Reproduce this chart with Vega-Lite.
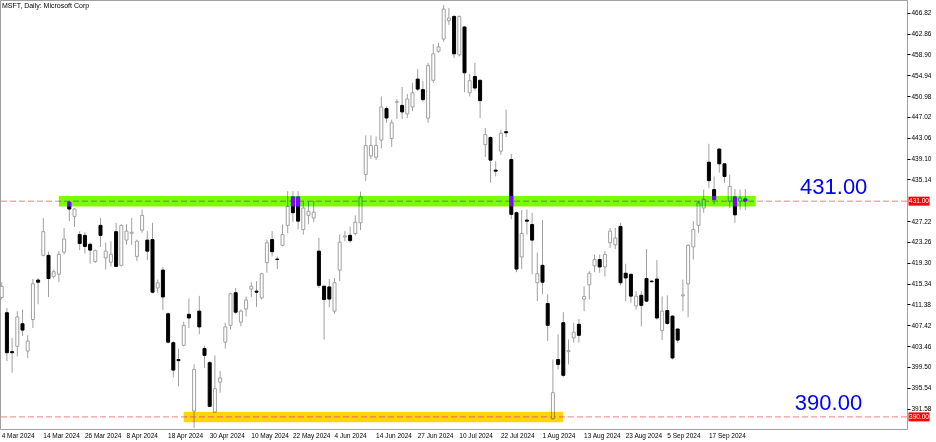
{
  "$schema": "https://vega.github.io/schema/vega-lite/v6.json",
  "width": 907,
  "height": 429,
  "autosize": {"type": "none"},
  "padding": {"left": 0, "top": 0, "right": 29, "bottom": 13},
  "background": "#ffffff",
  "config": {
    "view": {"stroke": "#a0a0a0", "strokeWidth": 1},
    "font": "Liberation Sans",
    "axisY": {"labelOverlap": false, "labelBound": false, "labelFontSize": 6.5, "labelColor": "#000000", "labelFont": "Liberation Sans", "tickColor": "#000000", "tickSize": 3, "labelPadding": 1, "domain": false, "grid": false, "title": null},
    "axisX": {"labelOverlap": false, "labelBound": false, "labelFontSize": 6.5, "labelColor": "#000000", "labelFont": "Liberation Sans", "ticks": false, "domain": false, "grid": false, "title": null}
  },
  "title": {"text": "MSFT, Daily:  Microsoft Corp", "anchor": "start", "frame": "group", "orient": "top", "offset": -9, "dx": 2, "fontSize": 7, "fontWeight": "normal", "color": "#000000", "font": "Liberation Sans"},
  "datasets": {
    "candles": [
      {"d":"2024-03-04","o":412.7,"h":415.6,"l":412.3,"c":414.8},
      {"d":"2024-03-05","o":409.8,"h":410.7,"l":400.6,"c":402.2},
      {"d":"2024-03-06","o":402.4,"h":405.0,"l":398.4,"c":402.2},
      {"d":"2024-03-07","o":403.4,"h":410.1,"l":401.5,"c":409.0},
      {"d":"2024-03-08","o":407.7,"h":410.4,"l":405.4,"c":406.5},
      {"d":"2024-03-11","o":402.5,"h":405.5,"l":401.2,"c":404.4},
      {"d":"2024-03-12","o":408.5,"h":416.2,"l":406.9,"c":415.3},
      {"d":"2024-03-13","o":416.0,"h":416.4,"l":411.4,"c":415.6},
      {"d":"2024-03-14","o":420.7,"h":427.8,"l":420.5,"c":425.2},
      {"d":"2024-03-15","o":420.7,"h":421.4,"l":412.8,"c":416.3},
      {"d":"2024-03-18","o":416.7,"h":418.0,"l":416.3,"c":417.6},
      {"d":"2024-03-19","o":417.1,"h":421.5,"l":415.6,"c":420.9},
      {"d":"2024-03-20","o":421.3,"h":425.9,"l":420.9,"c":423.8},
      {"d":"2024-03-21","o":430.8,"h":431.0,"l":427.2,"c":429.5},
      {"d":"2024-03-22","o":428.1,"h":429.7,"l":426.1,"c":429.5},
      {"d":"2024-03-25","o":424.65,"h":425.3,"l":421.7,"c":422.95},
      {"d":"2024-03-26","o":424.5,"h":425.1,"l":421.05,"c":422.4},
      {"d":"2024-03-27","o":422.8,"h":423.1,"l":419.1,"c":421.7},
      {"d":"2024-03-28","o":419.5,"h":421.8,"l":419.3,"c":421.6},
      {"d":"2024-04-01","o":426.4,"h":427.8,"l":422.3,"c":424.5},
      {"d":"2024-04-02","o":420.2,"h":423.1,"l":418.0,"c":421.5},
      {"d":"2024-04-03","o":419.4,"h":423.4,"l":418.6,"c":420.9},
      {"d":"2024-04-04","o":425.2,"h":426.9,"l":418.5,"c":418.6},
      {"d":"2024-04-05","o":418.8,"h":426.6,"l":418.6,"c":426.4},
      {"d":"2024-04-08","o":423.6,"h":426.6,"l":422.7,"c":425.3},
      {"d":"2024-04-09","o":424.9,"h":427.8,"l":422.7,"c":425.1},
      {"d":"2024-04-10","o":420.5,"h":423.7,"l":419.6,"c":423.4},
      {"d":"2024-04-11","o":425.5,"h":429.4,"l":425.0,"c":428.3},
      {"d":"2024-04-12","o":423.6,"h":425.3,"l":419.8,"c":421.5},
      {"d":"2024-04-15","o":423.7,"h":426.9,"l":413.45,"c":413.7},
      {"d":"2024-04-16","o":414.5,"h":416.1,"l":413.6,"c":415.5},
      {"d":"2024-04-17","o":417.9,"h":418.5,"l":410.3,"c":412.8},
      {"d":"2024-04-18","o":409.6,"h":409.8,"l":404.0,"c":404.2},
      {"d":"2024-04-19","o":404.1,"h":404.4,"l":397.5,"c":398.9},
      {"d":"2024-04-22","o":400.9,"h":403.0,"l":395.8,"c":400.7},
      {"d":"2024-04-23","o":403.6,"h":408.1,"l":403.4,"c":407.4},
      {"d":"2024-04-24","o":409.5,"h":412.5,"l":406.9,"c":408.8},
      {"d":"2024-04-25","o":391.1,"h":400.0,"l":387.9,"c":399.0},
      {"d":"2024-04-26","o":410.1,"h":413.0,"l":405.7,"c":407.1},
      {"d":"2024-04-29","o":403.0,"h":403.5,"l":399.3,"c":401.7},
      {"d":"2024-04-30","o":400.3,"h":400.6,"l":391.9,"c":392.0},
      {"d":"2024-05-01","o":390.9,"h":401.7,"l":390.8,"c":395.35},
      {"d":"2024-05-02","o":396.6,"h":398.7,"l":394.6,"c":397.4},
      {"d":"2024-05-03","o":404.2,"h":407.9,"l":403.0,"c":407.1},
      {"d":"2024-05-06","o":407.4,"h":413.6,"l":406.6,"c":413.4},
      {"d":"2024-05-07","o":413.6,"h":414.5,"l":409.5,"c":409.9},
      {"d":"2024-05-08","o":408.0,"h":410.4,"l":407.2,"c":410.1},
      {"d":"2024-05-09","o":410.5,"h":412.9,"l":409.1,"c":412.2},
      {"d":"2024-05-10","o":414.3,"h":415.6,"l":412.8,"c":414.84},
      {"d":"2024-05-13","o":413.9,"h":415.8,"l":410.9,"c":413.7},
      {"d":"2024-05-14","o":412.6,"h":417.4,"l":412.3,"c":417.2},
      {"d":"2024-05-15","o":419.3,"h":423.7,"l":417.4,"c":423.1},
      {"d":"2024-05-16","o":423.7,"h":425.3,"l":420.5,"c":421.4},
      {"d":"2024-05-17","o":420.0,"h":420.5,"l":418.1,"c":419.9},
      {"d":"2024-05-20","o":422.6,"h":426.6,"l":422.4,"c":424.65},
      {"d":"2024-05-21","o":426.4,"h":432.9,"l":424.9,"c":430.0},
      {"d":"2024-05-22","o":431.8,"h":432.9,"l":427.0,"c":428.8},
      {"d":"2024-05-23","o":431.8,"h":432.9,"l":425.6,"c":427.2},
      {"d":"2024-05-24","o":425.6,"h":431.0,"l":424.65,"c":429.7},
      {"d":"2024-05-28","o":428.3,"h":431.0,"l":426.6,"c":429.1},
      {"d":"2024-05-29","o":427.8,"h":431.0,"l":427.0,"c":428.9},
      {"d":"2024-05-30","o":421.5,"h":424.0,"l":414.5,"c":415.0},
      {"d":"2024-05-31","o":414.84,"h":414.9,"l":404.7,"c":412.3},
      {"d":"2024-06-03","o":414.7,"h":416.2,"l":410.8,"c":412.4},
      {"d":"2024-06-04","o":410.1,"h":416.4,"l":409.6,"c":415.5},
      {"d":"2024-06-05","o":417.9,"h":424.65,"l":415.8,"c":423.2},
      {"d":"2024-06-06","o":424.2,"h":425.3,"l":423.4,"c":424.4},
      {"d":"2024-06-07","o":424.5,"h":426.2,"l":423.1,"c":423.5},
      {"d":"2024-06-10","o":424.85,"h":428.3,"l":424.5,"c":427.0},
      {"d":"2024-06-11","o":426.9,"h":432.8,"l":425.5,"c":431.8},
      {"d":"2024-06-12","o":436.05,"h":443.5,"l":434.8,"c":441.6},
      {"d":"2024-06-13","o":439.6,"h":443.5,"l":439.0,"c":441.56},
      {"d":"2024-06-14","o":439.35,"h":443.3,"l":438.8,"c":441.6},
      {"d":"2024-06-17","o":442.6,"h":450.9,"l":441.0,"c":448.9},
      {"d":"2024-06-18","o":448.6,"h":449.0,"l":445.9,"c":446.8},
      {"d":"2024-06-20","o":442.9,"h":446.5,"l":441.3,"c":445.9},
      {"d":"2024-06-21","o":449.8,"h":450.4,"l":446.6,"c":449.9},
      {"d":"2024-06-24","o":449.2,"h":452.7,"l":446.6,"c":447.96},
      {"d":"2024-06-25","o":447.6,"h":451.4,"l":446.8,"c":450.4},
      {"d":"2024-06-26","o":448.9,"h":453.5,"l":448.1,"c":451.6},
      {"d":"2024-06-27","o":454.2,"h":456.1,"l":451.9,"c":452.3},
      {"d":"2024-06-28","o":452.2,"h":453.8,"l":449.9,"c":450.3},
      {"d":"2024-07-01","o":446.8,"h":457.3,"l":445.9,"c":456.75},
      {"d":"2024-07-02","o":453.97,"h":460.9,"l":453.5,"c":459.0},
      {"d":"2024-07-03","o":459.5,"h":461.1,"l":459.2,"c":460.3},
      {"d":"2024-07-05","o":461.8,"h":468.3,"l":461.3,"c":467.5},
      {"d":"2024-07-08","o":465.3,"h":467.7,"l":464.5,"c":465.8},
      {"d":"2024-07-09","o":466.1,"h":466.4,"l":458.2,"c":459.0},
      {"d":"2024-07-10","o":458.8,"h":466.3,"l":458.5,"c":466.1},
      {"d":"2024-07-11","o":464.1,"h":464.2,"l":451.7,"c":455.4},
      {"d":"2024-07-12","o":451.6,"h":455.2,"l":450.9,"c":453.9},
      {"d":"2024-07-15","o":454.7,"h":457.3,"l":452.0,"c":452.5},
      {"d":"2024-07-16","o":453.97,"h":454.1,"l":446.8,"c":450.1},
      {"d":"2024-07-17","o":441.75,"h":444.9,"l":439.4,"c":443.65},
      {"d":"2024-07-18","o":443.1,"h":443.3,"l":434.5,"c":438.8},
      {"d":"2024-07-19","o":436.9,"h":438.6,"l":435.7,"c":436.7},
      {"d":"2024-07-22","o":440.5,"h":444.6,"l":439.8,"c":443.9},
      {"d":"2024-07-23","o":444.2,"h":448.4,"l":443.2,"c":444.0},
      {"d":"2024-07-24","o":438.9,"h":440.0,"l":427.6,"c":428.5},
      {"d":"2024-07-25","o":428.8,"h":429.1,"l":417.5,"c":418.1},
      {"d":"2024-07-26","o":420.4,"h":429.3,"l":418.1,"c":424.85},
      {"d":"2024-07-29","o":427.4,"h":429.4,"l":424.65,"c":427.2},
      {"d":"2024-07-30","o":426.55,"h":428.8,"l":417.1,"c":423.6},
      {"d":"2024-07-31","o":415.5,"h":421.2,"l":412.0,"c":417.2},
      {"d":"2024-08-01","o":418.8,"h":427.4,"l":413.3,"c":415.6},
      {"d":"2024-08-02","o":411.55,"h":413.3,"l":404.4,"c":407.4},
      {"d":"2024-08-05","o":389.65,"h":400.9,"l":389.5,"c":394.6},
      {"d":"2024-08-06","o":400.9,"h":405.7,"l":399.0,"c":399.97},
      {"d":"2024-08-07","o":407.9,"h":409.9,"l":397.6,"c":397.9},
      {"d":"2024-08-08","o":402.4,"h":404.7,"l":399.97,"c":402.6},
      {"d":"2024-08-09","o":405.0,"h":407.9,"l":404.1,"c":406.1},
      {"d":"2024-08-12","o":407.6,"h":408.6,"l":404.1,"c":405.5},
      {"d":"2024-08-13","o":412.4,"h":414.8,"l":410.1,"c":412.9},
      {"d":"2024-08-14","o":415.1,"h":417.7,"l":412.3,"c":417.3},
      {"d":"2024-08-15","o":418.7,"h":420.85,"l":417.5,"c":419.9},
      {"d":"2024-08-16","o":419.9,"h":420.85,"l":417.4,"c":418.5},
      {"d":"2024-08-19","o":418.5,"h":421.5,"l":416.7,"c":420.85},
      {"d":"2024-08-20","o":423.1,"h":425.9,"l":422.1,"c":425.3},
      {"d":"2024-08-21","o":422.7,"h":425.9,"l":421.9,"c":424.0},
      {"d":"2024-08-22","o":426.2,"h":426.9,"l":415.0,"c":415.5},
      {"d":"2024-08-23","o":417.3,"h":419.1,"l":412.0,"c":416.4},
      {"d":"2024-08-26","o":417.1,"h":417.2,"l":411.7,"c":412.95},
      {"d":"2024-08-27","o":411.1,"h":413.9,"l":410.4,"c":412.95},
      {"d":"2024-08-28","o":413.1,"h":413.9,"l":407.2,"c":411.2},
      {"d":"2024-08-29","o":416.3,"h":421.9,"l":411.8,"c":412.0},
      {"d":"2024-08-30","o":415.8,"h":416.0,"l":415.5,"c":415.7},
      {"d":"2024-09-03","o":416.2,"h":419.8,"l":408.5,"c":408.8},
      {"d":"2024-09-04","o":406.4,"h":412.9,"l":404.6,"c":410.1},
      {"d":"2024-09-05","o":410.2,"h":413.1,"l":407.5,"c":407.75},
      {"d":"2024-09-06","o":409.15,"h":409.3,"l":400.9,"c":401.2},
      {"d":"2024-09-09","o":406.7,"h":406.8,"l":404.0,"c":404.6},
      {"d":"2024-09-10","o":413.0,"h":416.1,"l":410.1,"c":413.2},
      {"d":"2024-09-11","o":415.3,"h":422.8,"l":408.9,"c":422.6},
      {"d":"2024-09-12","o":422.3,"h":427.2,"l":419.9,"c":425.6},
      {"d":"2024-09-13","o":426.4,"h":431.0,"l":425.0,"c":430.7},
      {"d":"2024-09-16","o":429.7,"h":433.2,"l":428.8,"c":431.3},
      {"d":"2024-09-17","o":438.4,"h":441.9,"l":433.5,"c":434.9},
      {"d":"2024-09-18","o":433.2,"h":435.7,"l":430.4,"c":431.3},
      {"d":"2024-09-19","o":440.9,"h":441.0,"l":436.4,"c":438.1},
      {"d":"2024-09-20","o":438.1,"h":438.2,"l":434.5,"c":435.7},
      {"d":"2024-09-23","o":431.0,"h":436.05,"l":429.7,"c":433.8},
      {"d":"2024-09-24","o":431.8,"h":433.3,"l":426.9,"c":428.4},
      {"d":"2024-09-25","o":431.0,"h":433.2,"l":429.4,"c":431.6},
      {"d":"2024-09-26","o":431.4,"h":433.3,"l":429.3,"c":431.05}
    ],
    "zones": [
      {"n":"green","d":"2024-03-19","d2":"2024-09-30","lo":430.0,"hi":432.0},
      {"n":"yellow","d":"2024-04-23","d2":"2024-08-07","lo":389.0,"hi":391.0}
    ],
    "levels": [{"level":431.0},{"level":390.0}],
    "notes": [
      {"d":"2024-10-21","p":433.7,"t":"431.00"},
      {"d":"2024-10-18","p":392.55,"t":"390.00"}
    ]
  },
  "layer": [
    {
      "data": {"name": "levels"},
      "mark": {"type": "rule", "color": "#f08080", "strokeWidth": 1, "strokeDash": [6, 3]},
      "encoding": {
        "y": {"field": "level", "type": "quantitative", "scale": {"domain": [387.7, 469.23], "nice": false, "zero": false},
          "axis": {"orient": "right", "tickCount": 100, "values": [466.82,462.86,458.90,454.94,450.98,447.02,443.06,439.10,435.14,427.22,423.26,419.30,415.34,411.38,407.42,403.46,399.50,395.54,391.58], "format": ".2f", "labelOverlap": false}}
      }
    },
    {
      "data": {"name": "candles"},
      "mark": {"type": "rule", "color": "#a0a0a0", "strokeWidth": 1},
      "encoding": {
        "x": {"field": "d", "type": "ordinal", "sort": null,
          "scale": {"domain": ["2024-03-04","2024-03-05","2024-03-06","2024-03-07","2024-03-08","2024-03-11","2024-03-12","2024-03-13","2024-03-14","2024-03-15","2024-03-18","2024-03-19","2024-03-20","2024-03-21","2024-03-22","2024-03-25","2024-03-26","2024-03-27","2024-03-28","2024-04-01","2024-04-02","2024-04-03","2024-04-04","2024-04-05","2024-04-08","2024-04-09","2024-04-10","2024-04-11","2024-04-12","2024-04-15","2024-04-16","2024-04-17","2024-04-18","2024-04-19","2024-04-22","2024-04-23","2024-04-24","2024-04-25","2024-04-26","2024-04-29","2024-04-30","2024-05-01","2024-05-02","2024-05-03","2024-05-06","2024-05-07","2024-05-08","2024-05-09","2024-05-10","2024-05-13","2024-05-14","2024-05-15","2024-05-16","2024-05-17","2024-05-20","2024-05-21","2024-05-22","2024-05-23","2024-05-24","2024-05-28","2024-05-29","2024-05-30","2024-05-31","2024-06-03","2024-06-04","2024-06-05","2024-06-06","2024-06-07","2024-06-10","2024-06-11","2024-06-12","2024-06-13","2024-06-14","2024-06-17","2024-06-18","2024-06-20","2024-06-21","2024-06-24","2024-06-25","2024-06-26","2024-06-27","2024-06-28","2024-07-01","2024-07-02","2024-07-03","2024-07-05","2024-07-08","2024-07-09","2024-07-10","2024-07-11","2024-07-12","2024-07-15","2024-07-16","2024-07-17","2024-07-18","2024-07-19","2024-07-22","2024-07-23","2024-07-24","2024-07-25","2024-07-26","2024-07-29","2024-07-30","2024-07-31","2024-08-01","2024-08-02","2024-08-05","2024-08-06","2024-08-07","2024-08-08","2024-08-09","2024-08-12","2024-08-13","2024-08-14","2024-08-15","2024-08-16","2024-08-19","2024-08-20","2024-08-21","2024-08-22","2024-08-23","2024-08-26","2024-08-27","2024-08-28","2024-08-29","2024-08-30","2024-09-03","2024-09-04","2024-09-05","2024-09-06","2024-09-09","2024-09-10","2024-09-11","2024-09-12","2024-09-13","2024-09-16","2024-09-17","2024-09-18","2024-09-19","2024-09-20","2024-09-23","2024-09-24","2024-09-25","2024-09-26","2024-09-27","2024-09-30","2024-10-01","2024-10-02","2024-10-03","2024-10-04","2024-10-07","2024-10-08","2024-10-09","2024-10-10","2024-10-11","2024-10-14","2024-10-15","2024-10-16","2024-10-17","2024-10-18","2024-10-21","2024-10-22"],
            "range": [-0.9, 841.5], "paddingInner": 0, "paddingOuter": 0},
          "axis": {"values": ["2024-03-04","2024-03-14","2024-03-26","2024-04-08","2024-04-18","2024-04-30","2024-05-10","2024-05-22","2024-06-04","2024-06-14","2024-06-27","2024-07-10","2024-07-22","2024-08-01","2024-08-13","2024-08-23","2024-09-05","2024-09-17"],
            "labelExpr": "utcFormat(toDate(datum.value), '%-d %b %Y')", "labelAngle": 0, "labelAlign": "left", "labelBaseline": "top", "labelPadding": 3}},
        "y": {"field": "l", "type": "quantitative"},
        "y2": {"field": "h"}
      }
    },
    {
      "data": {"name": "candles"},
      "mark": {"type": "bar", "width": 3, "strokeWidth": 1},
      "encoding": {
        "x": {"field": "d", "type": "ordinal"},
        "y": {"field": "o", "type": "quantitative"},
        "y2": {"field": "c"},
        "fill": {"condition": {"test": "datum.c >= datum.o", "value": "#ffffff"}, "value": "#000000"},
        "stroke": {"condition": {"test": "datum.c >= datum.o", "value": "#a0a0a0"}, "value": "#000000"}
      }
    },
    {
      "data": {"name": "zones"},
      "mark": {"type": "rect", "blend": "difference"},
      "encoding": {
        "x": {"field": "d", "type": "ordinal", "bandPosition": 0.5},
        "x2": {"field": "d2", "bandPosition": 0.5},
        "y": {"field": "lo", "type": "quantitative"},
        "y2": {"field": "hi"},
        "color": {"field": "n", "type": "nominal", "scale": {"domain": ["green", "yellow"], "range": ["#8303ff", "#0028ff"]}, "legend": null}
      }
    },
    {
      "data": {"name": "notes"},
      "mark": {"type": "text", "fontSize": 22, "font": "Liberation Sans", "color": "#0000ff", "align": "center", "baseline": "middle"},
      "encoding": {
        "x": {"field": "d", "type": "ordinal"},
        "y": {"field": "p", "type": "quantitative"},
        "text": {"field": "t"}
      }
    },
    {
      "data": {"name": "levels"},
      "mark": {"type": "rect", "width": 21, "height": 9, "color": "#ff0000", "xOffset": 12, "clip": false},
      "encoding": {
        "x": {"value": "width"},
        "y": {"field": "level", "type": "quantitative"}
      }
    },
    {
      "data": {"name": "levels"},
      "mark": {"type": "text", "fontSize": 6.5, "font": "Liberation Sans", "color": "#ffffff", "align": "center", "baseline": "middle", "dx": 12, "clip": false},
      "encoding": {
        "x": {"value": "width"},
        "y": {"field": "level", "type": "quantitative"},
        "text": {"field": "level", "type": "quantitative", "format": ".2f"}
      }
    }
  ]
}
